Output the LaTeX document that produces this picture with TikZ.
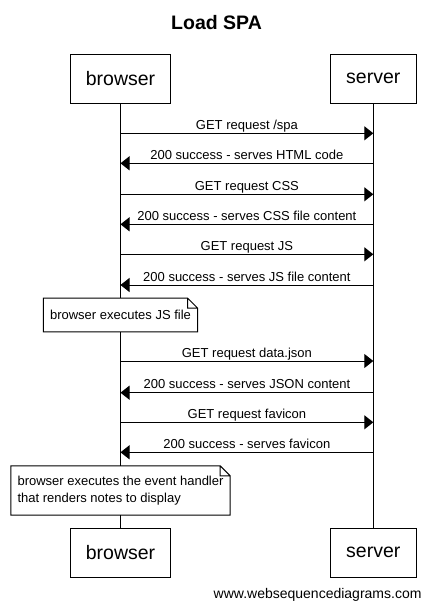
\documentclass[tikz,border=0pt]{standalone}
\usepackage{fontspec}
\setmainfont{Liberation Sans}
\usetikzlibrary{arrows.meta,calc}
\tikzset{
	actor/.style={draw, line width=1pt, inner xsep=15pt, minimum width=86pt,
			minimum height=49pt, font=\fontsize{19.5}{23}\selectfont},
	msg/.style={line width=1pt, -{Triangle[length=9pt, width=14pt]}},
	lbl/.style={anchor=base, yshift=4pt, inner sep=0pt, font=\fontsize{13}{15}\selectfont},
	note/.style={fill=white, align=left, inner xsep=6.5pt, inner ysep=0pt,
			font=\fontsize{13}{16.6}\selectfont}
}

\begin{document}
\begin{tikzpicture}[x=1pt, y=-1pt]
		\useasboundingbox (0, 0) rectangle (431, 611);

		\node [font=\bfseries\fontsize{19.5}{23}\selectfont] (title) at (216.5, 23) {Load SPA};

		% lifelines
		\node [actor] (bTop) at (120.5, 78.8) {browser};
		\node [actor] (sTop) at (373.3, 78.8) {server};
		\node [actor] (bBot) at (120.5, 552.8) {browser};
		\node [actor] (sBot) at (373.3, 552.8) {server};
		\draw [line width=1pt]	(bTop) -- (bBot)
								(sTop) -- (sBot);

		% notes
		\node [note, minimum height=33.4pt] (nJs) at (120.5, 315) {browser executes JS file};
		\node [note, minimum height=49pt] (nEvt) at (120.5, 490.5)
			{browser executes the event handler\\that renders notes to display};
		\foreach \n in {nJs, nEvt}
			\draw [line width=1pt]	(\n.south west) -- (\n.north west) -- ([xshift=-10pt]\n.north east)
									-- ([yshift=-10pt]\n.north east) -- (\n.south east) -- cycle
									([xshift=-10pt]\n.north east) |- ([yshift=-10pt]\n.north east);

		% messages
		\foreach \y/\from/\to/\txt [count=\i] in {
				133.3/b/s/{GET request /spa},
				163.3/s/b/{200 success - serves HTML code},
				194.3/b/s/{GET request CSS},
				224.3/s/b/{200 success - serves CSS file content},
				254.3/b/s/{GET request JS},
				285/s/b/{200 success - serves JS file content},
				361/b/s/{GET request data.json},
				392.7/s/b/{200 success - serves JSON content},
				422.3/b/s/{GET request favicon},
				452.3/s/b/{200 success - serves favicon}} {
			\coordinate (b\i) at (bTop |- 0,\y);
			\coordinate (s\i) at (sTop |- 0,\y);
			\draw [msg]	(\from\i) -- node [lbl]{\txt} (\to\i);
		}

		\node [anchor=base east, inner sep=0pt, font=\fontsize{14}{16}\selectfont] (wsd) at (421.7, 598.3)
			{www.websequencediagrams.com};
	\end{tikzpicture}
\end{document}
